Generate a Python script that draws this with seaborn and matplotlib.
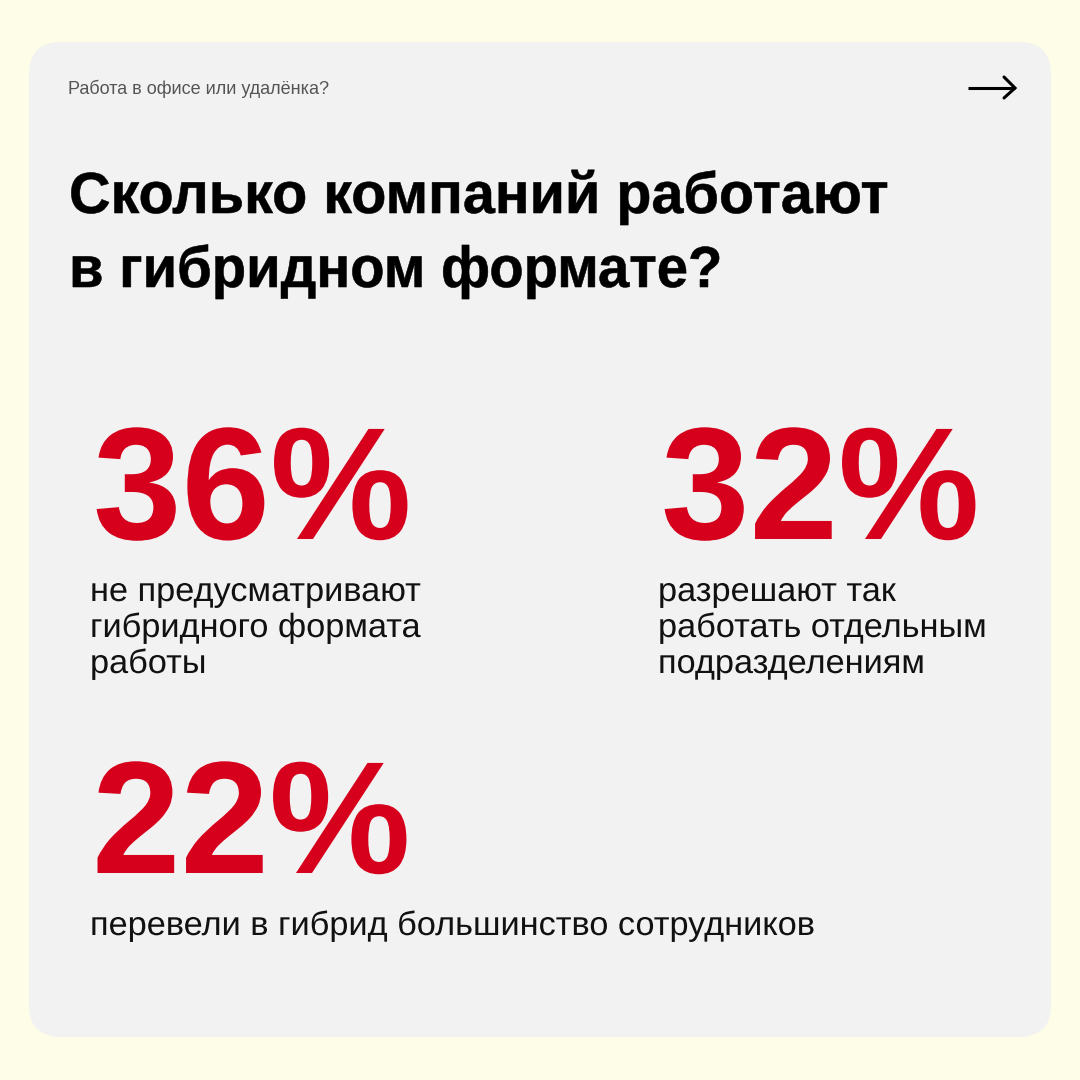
import matplotlib
matplotlib.use("Agg")
import matplotlib.pyplot as plt
import matplotlib.patheffects as pe
from matplotlib.patches import FancyBboxPatch
from matplotlib.transforms import Affine2D
import seaborn as sns

sns.set_theme(style="white")

eyebrow = "Работа в офисе или удалёнка?"
title_lines = ["Сколько компаний работают", "в гибридном формате?"]
values = [36, 32, 22]
captions = [
    "не предусматривают\nгибридного формата\nработы",
    "разрешают так\nработать отдельным\nподразделениям",
    "перевели в гибрид большинство сотрудников",
]

BG = "#FEFEE8"
PANEL = "#F2F2F2"
RED = "#D6001C"
px = 72 / 100  # font points per pixel at dpi 100


class StretchX(pe.AbstractPathEffect):
    """Stretch a text's glyphs horizontally about its anchor, optionally emboldening."""

    def __init__(self, sx, x0, embolden=0.0):
        super().__init__()
        self.sx = sx
        self.x0 = x0
        self.embolden = embolden

    def draw_path(self, renderer, gc, tpath, affine, rgbFace=None):
        t = affine + Affine2D().translate(-self.x0, 0).scale(self.sx, 1).translate(self.x0, 0)
        gc0 = renderer.new_gc()
        gc0.copy_properties(gc)
        if self.embolden:
            gc0.set_linewidth(self.embolden)
            gc0.set_foreground(rgbFace)
        renderer.draw_path(gc0, tpath, t, rgbFace)
        gc0.restore()


fig = plt.figure(figsize=(10.8, 10.8), dpi=100, facecolor=BG)
ax = fig.add_axes([0, 0, 1, 1])
ax.set_xlim(0, 1080)
ax.set_ylim(1080, 0)
ax.axis("off")


def stretched(x, y, s, sx, **kw):
    return ax.text(x, y, s, va="baseline", ha="left",
                   path_effects=[StretchX(sx, x)], **kw)


ax.add_patch(FancyBboxPatch((29, 42), 1022, 995,
                            boxstyle="round,pad=0,rounding_size=32",
                            fc=PANEL, ec="none"))

ax.text(68, 94, eyebrow, fontsize=18 * px, family="Liberation Sans",
        color="#555555", va="baseline", ha="left")

ax.plot([968, 1015], [88, 88], color="black", lw=2.2, solid_capstyle="butt")
ax.plot([1004, 1015, 1004], [77, 88, 98], color="black", lw=2.2,
        solid_joinstyle="miter", solid_capstyle="round")

renderer = fig.canvas.get_renderer()
for line, y, right in zip(title_lines, [213, 287], [888, 722]):
    t = ax.text(69, y, line, fontsize=58 * px, family="Liberation Sans",
                weight="bold", color="black", va="baseline", ha="left")
    w = t.get_window_extent(renderer).width
    t.set_path_effects([StretchX((right - 69) / w, 69, embolden=0.4)])

positions = [(93, 539), (661, 539), (92, 873)]
cap_pos = [(90, 601), (658, 601), (90, 935)]
for v, (x, y), c, (cx, cy) in zip(values, positions, captions, cap_pos):
    stretched(x, y, f"{v}%", 0.995, fontsize=160 * px, family="Liberation Sans",
              weight="bold", color=RED)
    for i, part in enumerate(c.split("\n")):
        stretched(cx, cy + i * 36, part, 1.024, fontsize=33.5 * px,
                  family="Liberation Sans", color="#111111")

fig.savefig("out.png", dpi=100, facecolor=BG)
